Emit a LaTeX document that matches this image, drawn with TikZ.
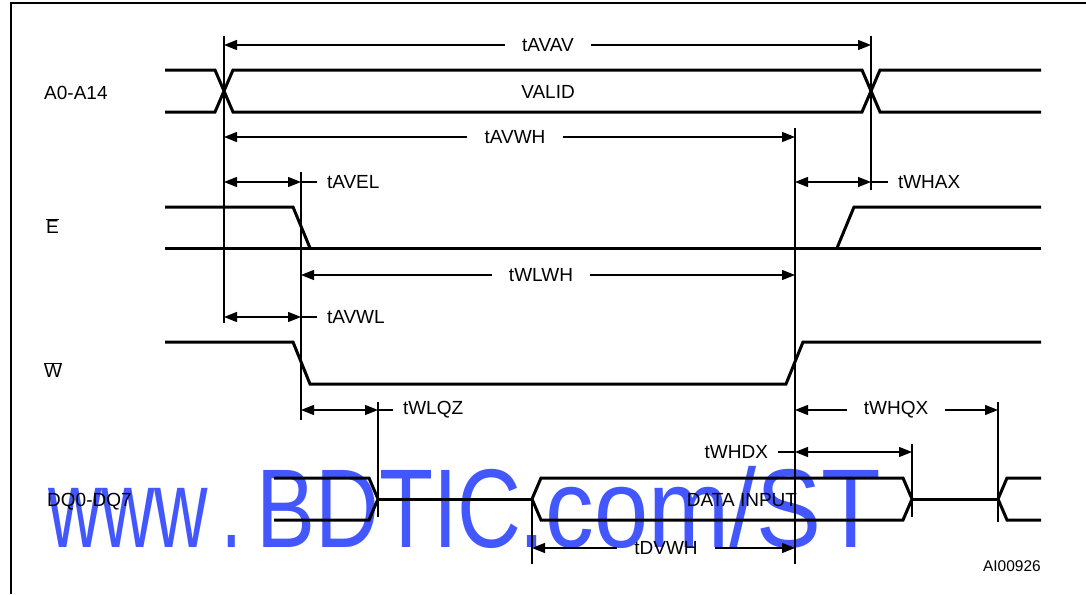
\documentclass[tikz,border=0pt]{standalone}
\usepackage{fontspec}
\setmainfont{Liberation Sans}
\usetikzlibrary{arrows.meta}
\definecolor{markblue}{HTML}{4357FF}
\newcommand{\lblfont}{\fontsize{19}{22}\selectfont}
\newcommand{\tagfont}{\fontsize{15.5}{18}\selectfont}
\tikzset{
  tsig/.style={line width=3pt,line join=miter},
  tguide/.style={line width=1.2pt},
  tarr/.style={-{Triangle[length=13pt,width=10pt]},line width=1.2pt},
  tboth/.style={{Triangle[length=13pt,width=10pt]}-{Triangle[length=13pt,width=10pt]},line width=1.2pt},
  tmid/.style={font=\lblfont,inner xsep=17pt,inner ysep=2pt},
  tside/.style={font=\lblfont,inner sep=2pt,outer sep=8pt},
  sname/.style={font=\lblfont,anchor=west,inner sep=0pt},
  wmark/.style={anchor=base west,inner sep=0pt,text=markblue,font=\fontsize{112}{112}\selectfont}
}

\begin{document}
\begin{tikzpicture}[x=1pt,y=-1pt]
  \useasboundingbox (0,0) rectangle (1086,594);
  % watermark, behind the diagram
  \node[wmark] (mark1) at (48,547) {\scalebox{0.66}[1]{www}};
  \node[wmark] (mark2) at (221,547) {\scalebox{0.66}[1]{.}};
  \node[wmark] (mark3) at (256,547) {\scalebox{0.79}[1]{BDTIC}};
  \node[wmark] (mark4) at (518,547) {\scalebox{0.87}[1]{.com/ST}};
  % frame
  \draw[line width=2pt] (11,594) -- (11,3) -- (1086,3);

  % signal names
  \node[sname] (nA) at (44,93) {A0-A14};
  \node[sname] (nE) at (46,226) {$\overline{\hbox{E}}$};
  \node[sname] (nW) at (44,370) {$\overline{\hbox{W}}$};
  \node[sname] (nDQ) at (47,502) {DQ0-DQ7};

  % waveforms
  \draw[tsig] (165,70) -- (215,70) -- (233,112) -- (862,112) -- (880,70) -- (1041,70);
  \draw[tsig] (165,112) -- (215,112) -- (233,70) -- (862,70) -- (880,112) -- (1041,112);
  \node[font=\lblfont] (valid) at (548,92) {VALID};
  \draw[tsig] (165,207) -- (293,207) -- (310,248);
  \draw[tsig] (165,248) -- (1041,248);
  \draw[tsig] (837,248) -- (854,207) -- (1041,207);
  \draw[tsig] (165,342) -- (293,342) -- (310,384) -- (786,384) -- (803,342) -- (1041,342);
  \draw[tsig] (274,478) -- (369,478) -- (378,499) -- (369,520) -- (274,520);
  \draw[tsig] (378,499) -- (532,499);
  \draw[tsig] (541,478) -- (532,499) -- (541,520) -- (903,520) -- (912,499) -- (903,478) -- cycle;
  \draw[tsig] (912,499) -- (998,499);
  \draw[tsig] (1041,478) -- (1007,478) -- (998,499) -- (1007,520) -- (1041,520);
  \node[font=\lblfont] (din) at (742,500) {DATA INPUT};

  % reference edges
  \draw[tguide] (224,36) -- (224,323);
  \draw[tguide] (871,36) -- (871,190);
  \draw[tguide] (301,172) -- (301,420);
  \draw[tguide] (795,128) -- (795,564);
  \draw[tguide] (378,402) -- (378,517);
  \draw[tguide] (912,444) -- (912,517);
  \draw[tguide] (532,500) -- (532,564);
  \draw[tguide] (998,402) -- (998,522);

  % timing arrows
  \coordinate (avavL) at (224,45);  \coordinate (avavR) at (871,45);
  \coordinate (avwhL) at (224,137); \coordinate (avwhR) at (795,137);
  \coordinate (avelL) at (224,182); \coordinate (avelR) at (301,182);
  \coordinate (whaxL) at (795,182); \coordinate (whaxR) at (871,182);
  \coordinate (wlwhL) at (301,275); \coordinate (wlwhR) at (795,275);
  \coordinate (avwlL) at (224,317); \coordinate (avwlR) at (301,317);
  \coordinate (wlqzL) at (301,410); \coordinate (wlqzR) at (378,410);
  \coordinate (whqxL) at (795,410); \coordinate (whqxR) at (998,410);
  \coordinate (whdxL) at (795,452); \coordinate (whdxR) at (912,452);
  \coordinate (dvwhL) at (532,548); \coordinate (dvwhR) at (795,548);

  \node[tmid] (lAVAV) at (548,45) {tAVAV};
  \draw[tarr] (lAVAV) -- (avavL);
  \draw[tarr] (lAVAV) -- (avavR);
  \node[tmid] (lAVWH) at (515,137) {tAVWH};
  \draw[tarr] (lAVWH) -- (avwhL);
  \draw[tarr] (lAVWH) -- (avwhR);
  \node[tmid] (lWLWH) at (541,275) {tWLWH};
  \draw[tarr] (lWLWH) -- (wlwhL);
  \draw[tarr] (lWLWH) -- (wlwhR);
  \node[tmid] (lWHQX) at (896,410) {tWHQX};
  \draw[tarr] (lWHQX) -- (whqxL);
  \draw[tarr] (lWHQX) -- (whqxR);
  \node[tmid] (lDVWH) at (666,548) {tDVWH};
  \draw[tarr] (lDVWH) -- (dvwhL);
  \draw[tarr] (lDVWH) -- (dvwhR);

  \node[tside,anchor=west] (lAVEL) at (317,182) {tAVEL};
  \draw[tboth] (avelL) -- (avelR);
  \draw[tguide] (avelR) -- (lAVEL);
  \node[tside,anchor=west] (lWHAX) at (888,182) {tWHAX};
  \draw[tboth] (whaxL) -- (whaxR);
  \draw[tguide] (whaxR) -- (lWHAX);
  \node[tside,anchor=west] (lAVWL) at (317,317) {tAVWL};
  \draw[tboth] (avwlL) -- (avwlR);
  \draw[tguide] (avwlR) -- (lAVWL);
  \node[tside,anchor=west] (lWLQZ) at (393,410) {tWLQZ};
  \draw[tboth] (wlqzL) -- (wlqzR);
  \draw[tguide] (wlqzR) -- (lWLQZ);
  \node[tside,anchor=east] (lWHDX) at (778,452) {tWHDX};
  \draw[tboth] (whdxL) -- (whdxR);
  \draw[tguide] (lWHDX) -- (whdxL);

  \node[anchor=east,font=\tagfont,inner sep=0pt] (tag) at (1041,566) {AI00926};
\end{tikzpicture}
\end{document}
